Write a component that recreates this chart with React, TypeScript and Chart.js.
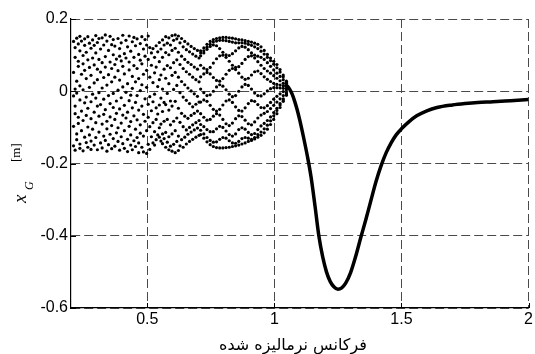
import { useEffect, useRef } from "react";
import { Chart, registerables } from "chart.js";

Chart.register(...registerables);

// ---- Data ----
// Scattered (non-periodic) response region: samples per frequency step
const chaosFreq = [
  0.21, 0.21625, 0.2225, 0.22875, 0.235, 0.24125, 0.2475, 0.25375, 0.26, 0.26625,
  0.2725, 0.27875, 0.285, 0.29125, 0.2975, 0.30375, 0.31, 0.31625, 0.3225, 0.32875,
  0.335, 0.34125, 0.3475, 0.35375, 0.36, 0.36625, 0.3725, 0.37875, 0.385, 0.39125,
  0.3975, 0.40375, 0.41, 0.41625, 0.4225, 0.42875, 0.435, 0.44125, 0.4475, 0.45375,
  0.46, 0.46625, 0.4725, 0.47875, 0.485, 0.49125, 0.4975, 0.50375, 0.51, 0.51625,
  0.5225, 0.52875, 0.535, 0.54125, 0.5475, 0.55375, 0.56, 0.56625, 0.5725, 0.57875,
  0.585, 0.59125, 0.5975, 0.60375, 0.61, 0.61625, 0.6225, 0.62875, 0.635, 0.64125,
  0.6475, 0.65375, 0.66, 0.66625, 0.6725, 0.67875, 0.685, 0.69125, 0.6975, 0.70375,
];
const chaosAmp = [
  [0.138, 0.052, -0.013, -0.097, -0.151],
  [0.121, 0.094, -0.041, -0.062, -0.163, 0.006],
  [0.147, 0.028, -0.005, -0.118, -0.134],
  [0.083, 0.069, -0.072, -0.089, 0.131],
  [0.112, 0.015, -0.024, -0.146, -0.158, 0.152],
  [0.139, 0.047, -0.055, -0.109],
  [0.099, 0.076, 0.004, -0.081, -0.165],
  [0.127, -0.032, -0.127, 0.058, 0.145],
  [0.108, 0.035, -0.016, -0.067, -0.142],
  [0.151, 0.087, -0.047, -0.099, -0.155],
  [0.066, 0.011, -0.121, 0.133],
  [0.119, 0.044, -0.029, -0.076, -0.138, -0.161],
  [0.142, 0.092, -0.008, -0.105],
  [0.073, 0.023, -0.058, -0.149, 0.127],
  [0.106, -0.019, -0.087, -0.128, 0.154],
  [0.135, 0.061, 0.032, -0.041, -0.162],
  [0.088, -0.004, -0.069, -0.113, 0.146],
  [0.117, 0.053, -0.037, -0.143],
  [0.148, 0.079, 0.009, -0.091, -0.157],
  [0.128, 0.038, -0.022, -0.064, -0.124],
  [0.096, 0.067, -0.051, -0.136, 0.156],
  [0.139, 0.017, -0.083, -0.104, -0.166],
  [0.113, 0.046, -0.012, -0.148],
  [0.152, 0.081, -0.034, -0.071, -0.119],
  [0.063, 0.026, -0.095, -0.159, 0.129],
  [0.101, -0.006, -0.045, -0.131, 0.143],
  [0.125, 0.074, 0.039, -0.078, -0.152],
  [0.089, -0.027, -0.061, -0.115],
  [0.146, 0.057, 0.003, -0.101, -0.139],
  [0.118, 0.031, -0.049, -0.163, 0.097],
  [0.134, 0.084, -0.018, -0.088, -0.126],
  [0.069, 0.012, -0.066, -0.145, 0.155],
  [0.104, 0.048, -0.039, -0.109, -0.158],
  [0.141, 0.092, -0.003, -0.074],
  [0.123, 0.021, -0.058, -0.133, -0.167],
  [0.081, 0.059, -0.026, -0.097, 0.153],
  [0.111, -0.011, -0.084, -0.121, -0.149],
  [0.137, 0.041, 0.008, -0.046, -0.162],
  [0.094, 0.071, -0.068, -0.137, 0.149],
  [0.126, 0.026, -0.031, -0.105, -0.153],
  [0.145, 0.063, -0.012, -0.079, -0.128],
  [0.102, 0.035, -0.052, -0.143, -0.17],
  [0.132, 0.086, 0.002, -0.093, -0.116],
  [0.076, 0.018, -0.041, -0.155, 0.151],
  [0.117, 0.047, -0.064, -0.124, -0.168],
  [0.143, 0.097, -0.021, -0.083],
  [0.128, 0.058, 0.011, -0.109, -0.172],
  [0.088, -0.036, -0.072, -0.147, 0.153],
  [0.121, 0.039, -0.015, -0.098, -0.161],
  [0.106, 0.072, -0.054, -0.126],
  [0.118, 0.024, -0.029, -0.087, -0.143],
  [0.094, 0.051, -0.008, -0.112, -0.149],
  [0.126, 0.067, -0.046, -0.078, -0.134],
  [0.109, 0.013, -0.063, -0.121],
  [0.135, 0.082, 0.032, -0.038, -0.101, -0.127],
  [0.117, 0.045, -0.019, -0.091, -0.138],
  [0.142, 0.094, 0.006, -0.056, -0.118, -0.145],
  [0.128, 0.061, -0.031, -0.083, -0.131],
  [0.151, 0.107, 0.036, -0.037, -0.114, -0.155],
  [0.133, 0.071, -0.006, -0.078, -0.141],
  [0.148, 0.101, 0.021, -0.052, -0.126, -0.162],
  [0.128, 0.065, -0.027, -0.093, -0.152],
  [0.154, 0.113, 0.044, -0.041, -0.118, -0.166],
  [0.141, 0.079, 0.005, -0.083, -0.147],
  [0.156, 0.119, 0.052, -0.028, -0.109, -0.17],
  [0.145, 0.087, 0.016, -0.074, -0.139],
  [0.153, 0.108, 0.039, -0.047, -0.124, -0.164],
  [0.134, 0.074, -0.004, -0.086, -0.151],
  [0.146, 0.097, 0.027, -0.061, -0.134],
  [0.123, 0.063, -0.016, -0.098, -0.155],
  [0.138, 0.088, 0.018, -0.069, -0.127],
  [0.115, 0.054, -0.025, -0.107, -0.146],
  [0.131, 0.08, 0.009, -0.075, -0.119],
  [0.109, 0.047, -0.034, -0.1, -0.139],
  [0.124, 0.074, 0.001, -0.067, -0.113],
  [0.103, 0.039, -0.043, -0.093, -0.133],
  [0.118, 0.067, -0.007, -0.061, -0.107],
  [0.097, 0.032, -0.036, -0.087, -0.127],
  [0.113, 0.061, -0.014, -0.055, -0.102],
  [0.092, 0.026, -0.03, -0.081, -0.122],
];

// Quasi-periodic "bulge" region: bands of samples
const bulgeFreq = [
  0.71, 0.7225, 0.735, 0.7475, 0.76, 0.7725, 0.785, 0.7975, 0.81, 0.8225,
  0.835, 0.8475, 0.86, 0.8725, 0.885, 0.8975, 0.91, 0.9225, 0.935, 0.9475,
  0.96, 0.9725, 0.985, 0.9975, 1.01, 1.0225, 1.035, 1.0475,
];
const bandA = [0.112, 0.12, 0.13, 0.138, 0.143, 0.146, 0.148, 0.149, 0.149, 0.148, 0.147, 0.145, 0.143, 0.142, 0.14, 0.138, 0.136, 0.133, 0.13, 0.123, 0.113, 0.102, 0.092, 0.083, 0.074, 0.06, 0.045, 0.028];
const bandA2 = [0.106, 0.112, 0.122, 0.13, 0.136, 0.139, 0.141, 0.141, 0.14, 0.138, 0.136, 0.134, 0.134, 0.134, 0.133, 0.13, 0.127, 0.123, 0.118, 0.111, 0.103, 0.094, 0.085, 0.075, 0.065, 0.053, 0.04, 0.025];
const bandB = [0.098, 0.106, 0.116, 0.124, 0.128, 0.126, 0.118, 0.108, 0.101, 0.099, 0.104, 0.112, 0.12, 0.124, 0.122, 0.115, 0.106, 0.1, 0.097, 0.094, 0.088, 0.079, 0.069, 0.059, 0.05, 0.041, 0.032, 0.022];
const bandC = [0.072, 0.064, 0.06, 0.066, 0.078, 0.09, 0.098, 0.1, 0.094, 0.083, 0.072, 0.066, 0.068, 0.077, 0.088, 0.096, 0.098, 0.092, 0.082, 0.072, 0.063, 0.056, 0.05, 0.043, 0.036, 0.029, 0.022, 0.016];
const bandD = [0.04, 0.048, 0.052, 0.048, 0.038, 0.03, 0.028, 0.035, 0.047, 0.058, 0.063, 0.06, 0.05, 0.039, 0.033, 0.036, 0.045, 0.054, 0.056, 0.049, 0.04, 0.033, 0.027, 0.022, 0.019, 0.017, 0.015, 0.013];
const bandE = [0.006, -0.004, -0.012, -0.01, 0.0, 0.012, 0.018, 0.014, 0.004, -0.008, -0.015, -0.012, 0.0, 0.012, 0.019, 0.016, 0.006, -0.005, -0.012, -0.013, -0.007, 0.001, 0.007, 0.01, 0.01, 0.009, 0.008, 0.008];
const bandF = [-0.03, -0.024, -0.028, -0.039, -0.05, -0.055, -0.05, -0.038, -0.027, -0.024, -0.031, -0.043, -0.053, -0.055, -0.046, -0.034, -0.026, -0.028, -0.037, -0.045, -0.046, -0.04, -0.031, -0.022, -0.014, -0.007, -0.001, 0.004];
const bandG = [-0.062, -0.072, -0.08, -0.078, -0.069, -0.062, -0.066, -0.078, -0.09, -0.095, -0.088, -0.076, -0.068, -0.07, -0.08, -0.09, -0.093, -0.085, -0.074, -0.066, -0.061, -0.056, -0.048, -0.039, -0.03, -0.021, -0.012, -0.004];
const bandI = [-0.092, -0.098, -0.106, -0.112, -0.112, -0.104, -0.097, -0.1, -0.11, -0.12, -0.124, -0.118, -0.106, -0.101, -0.105, -0.114, -0.12, -0.117, -0.106, -0.096, -0.089, -0.081, -0.071, -0.059, -0.047, -0.034, -0.021, -0.007];
const bandJ = [-0.108, -0.118, -0.128, -0.136, -0.141, -0.14, -0.133, -0.128, -0.13, -0.137, -0.143, -0.144, -0.139, -0.131, -0.128, -0.13, -0.133, -0.128, -0.12, -0.113, -0.104, -0.094, -0.082, -0.068, -0.053, -0.038, -0.024, -0.011];
const bandH = [-0.12, -0.13, -0.14, -0.148, -0.153, -0.156, -0.157, -0.157, -0.156, -0.155, -0.153, -0.151, -0.149, -0.146, -0.143, -0.139, -0.136, -0.132, -0.127, -0.122, -0.115, -0.105, -0.092, -0.078, -0.062, -0.045, -0.028, -0.01];

// Periodic response region: single-valued curve
const curveFreq = [
  1.04, 1.05, 1.06, 1.07, 1.08, 1.09, 1.1, 1.115, 1.13, 1.145, 1.16, 1.175,
  1.19, 1.205, 1.22, 1.235, 1.25, 1.265, 1.28, 1.3, 1.32, 1.34, 1.36, 1.38,
  1.4, 1.42, 1.44, 1.46, 1.48, 1.5, 1.53, 1.56, 1.6, 1.64, 1.7, 1.75, 1.8,
  1.86, 1.93, 2.0,
];
const curveAmp = [
  0.018, 0.015, 0.006, -0.008, -0.028, -0.052, -0.08, -0.128, -0.18, -0.24,
  -0.318, -0.4, -0.458, -0.5, -0.527, -0.542, -0.548, -0.544, -0.532,
  -0.502, -0.457, -0.405, -0.355, -0.302, -0.25, -0.206, -0.17, -0.142,
  -0.12, -0.104, -0.084, -0.068, -0.054, -0.045, -0.038, -0.034, -0.031,
  -0.029, -0.026, -0.023,
];

const xTicks = [0.5, 1, 1.5, 2];
const xTickLabels = ["0.5", "1", "1.5", "2"];
const yTicks = [-0.6, -0.4, -0.2, 0, 0.2];
const yTickLabels = ["-0.6", "-0.4", "-0.2", "0", "0.2"];
const xTitle = "فرکانس نرمالیزه شده";

export default function App() {
  const canvasRef = useRef<HTMLCanvasElement | null>(null);

  useEffect(() => {
    const canvas = canvasRef.current;
    if (!canvas) return;

    const scatterPts: { x: number; y: number }[] = [];
    chaosFreq.forEach((f, i) => {
      chaosAmp[i].forEach((a) => scatterPts.push({ x: f, y: a }));
    });
    const bands = [bandA, bandA2, bandB, bandC, bandD, bandE, bandF, bandG, bandI, bandJ, bandH];
    bands.forEach((b) => b.forEach((a, i) => scatterPts.push({ x: bulgeFreq[i], y: a })));
    const curvePts = curveFreq.map((f, i) => ({ x: f, y: curveAmp[i] }));

    const decor = {
      id: "decor",
      afterDraw(chart: any) {
        const ctx = chart.ctx as CanvasRenderingContext2D;
        const xs = chart.scales.x;
        const ys = chart.scales.y;
        const area = chart.chartArea;
        ctx.save();
        // inner tick marks
        ctx.strokeStyle = "#000";
        ctx.lineWidth = 1;
        ctx.beginPath();
        xTicks.forEach((v) => {
          const px = Math.round(xs.getPixelForValue(v)) + 0.5;
          ctx.moveTo(px, area.bottom);
          ctx.lineTo(px, area.bottom - 5);
        });
        yTicks.forEach((v) => {
          const py = Math.round(ys.getPixelForValue(v)) + 0.5;
          ctx.moveTo(area.left, py);
          ctx.lineTo(area.left + 5, py);
        });
        ctx.stroke();

        ctx.fillStyle = "#000";
        // x title (Persian)
        ctx.font = '16px "DejaVu Sans"';
        ctx.textAlign = "center";
        ctx.textBaseline = "alphabetic";
        ctx.direction = "rtl";
        ctx.fillText(xTitle, 293, 350);
        ctx.direction = "ltr";

        // y title: x_G [m], rotated
        ctx.textAlign = "left";
        const drawRot = (t: string, font: string, px: number, py: number) => {
          ctx.save();
          ctx.translate(px, py);
          ctx.rotate(-Math.PI / 2);
          ctx.font = font;
          ctx.fillText(t, 0, 0);
          ctx.restore();
        };
        drawRot("x", 'italic 19px "Liberation Serif"', 26, 203);
        drawRot("G", 'italic 12px "Liberation Serif"', 33, 190);
        drawRot("[m]", '13px "Liberation Serif"', 20, 162);
        ctx.restore();
      },
    };

    const chart = new Chart(canvas, {
      type: "scatter",
      data: {
        datasets: [
          {
            data: scatterPts,
            showLine: false,
            pointRadius: 1.6,
            pointBackgroundColor: "#000",
            pointBorderWidth: 0,
            pointBorderColor: "#000",
          },
          {
            data: curvePts,
            showLine: true,
            pointRadius: 0,
            borderColor: "#000",
            borderWidth: 3.5,
            cubicInterpolationMode: "monotone",
            fill: false,
          },
        ],
      },
      options: {
        animation: false,
        responsive: false,
        devicePixelRatio: 1,
        events: [],
        layout: { padding: { top: 19, right: 5, left: 0, bottom: 0 } },
        plugins: {
          legend: { display: false },
          tooltip: { enabled: false },
          title: { display: false },
        },
        scales: {
          x: {
            type: "linear",
            min: 0.2,
            max: 2,
            afterBuildTicks: (scale: any) => {
              scale.ticks = xTicks.map((v) => ({ value: v }));
            },
            afterFit: (scale: any) => {
              scale.height = 46;
            },
            ticks: {
              callback: (_v: any, i: number) => xTickLabels[i],
              color: "#000",
              font: { family: '"Liberation Sans"', size: 16 },
              padding: 2,
              maxRotation: 0,
              autoSkip: false,
            },
            grid: {
              color: "#4a4a4a",
              lineWidth: 1,
              drawTicks: false,
            },
            border: { display: true, color: "#000", width: 1.2, dash: [9, 4] },
          },
          y: {
            type: "linear",
            min: -0.6,
            max: 0.2,
            afterBuildTicks: (scale: any) => {
              scale.ticks = yTicks.map((v) => ({ value: v }));
            },
            afterFit: (scale: any) => {
              scale.width = 71;
            },
            ticks: {
              callback: (_v: any, i: number) => yTickLabels[i],
              color: "#000",
              font: { family: '"Liberation Sans"', size: 16 },
              padding: 3,
              autoSkip: false,
            },
            grid: {
              color: "#4a4a4a",
              lineWidth: 1,
              drawTicks: false,
            },
            border: { display: true, color: "#000", width: 1.2, dash: [9, 4] },
          },
        },
      },
      plugins: [decor],
    });

    return () => chart.destroy();
  }, []);

  return (
    <div style={{ position: "absolute", left: 0, top: 0, width: 535, height: 354, background: "#fff" }}>
      <canvas ref={canvasRef} width={535} height={354} style={{ display: "block" }} />
    </div>
  );
}
